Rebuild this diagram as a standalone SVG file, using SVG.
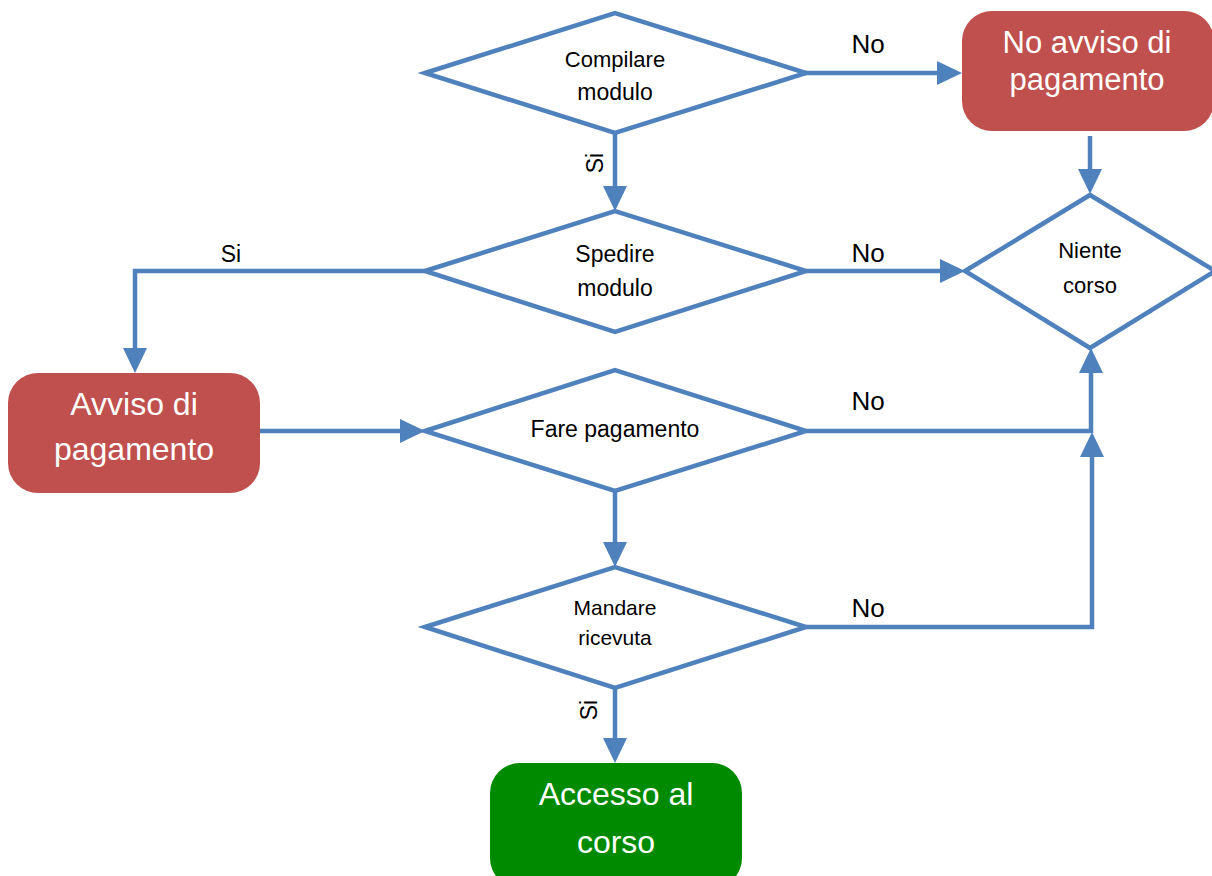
<svg xmlns="http://www.w3.org/2000/svg" width="1212" height="876" viewBox="0 0 1212 876">
<style>
.dia{fill:#FFFFFF;stroke:#4F81BD;stroke-width:4.5;stroke-linejoin:miter}
.con{fill:none;stroke:#4F81BD;stroke-width:4.5;stroke-linejoin:miter}
.red{fill:#C0504D}
.green{fill:#008A00}
.t{font-family:"Liberation Sans",Arial,sans-serif;fill:#000000;text-anchor:middle}
.w{font-family:"Liberation Sans",Arial,sans-serif;fill:#FFFFFF;text-anchor:middle}
.lbl{font-family:"Liberation Sans",Arial,sans-serif;fill:#000000;text-anchor:middle}
</style>
<defs>
<marker id="arr" markerUnits="userSpaceOnUse" markerWidth="28" markerHeight="28" viewBox="0 -14 28 28" refX="2" refY="0" orient="auto">
<path d="M0,-12 L25,0 L0,12 Z" fill="#4F81BD"/>
</marker>
</defs>
<rect width="1212" height="876" fill="#FFFFFF"/>
<g id="connectors">
<path class="con" d="M805,73 H939" marker-end="url(#arr)"/>
<path class="con" d="M615,133 V188" marker-end="url(#arr)"/>
<path class="con" d="M425,271 H135 V350" marker-end="url(#arr)"/>
<path class="con" d="M806,271 H942" marker-end="url(#arr)"/>
<path class="con" d="M1090,136 V171" marker-end="url(#arr)"/>
<path class="con" d="M260,431 H402" marker-end="url(#arr)"/>
<path class="con" d="M806,431 H1091 V371" marker-end="url(#arr)"/>
<path class="con" d="M615,491 V544" marker-end="url(#arr)"/>
<path class="con" d="M806,627 H1092 V455" marker-end="url(#arr)"/>
<path class="con" d="M615,688 V740" marker-end="url(#arr)"/>
<text class="lbl" x="868" y="53" font-size="26">No</text>
<text class="lbl" x="868" y="262" font-size="26">No</text>
<text class="lbl" x="868" y="410" font-size="26">No</text>
<text class="lbl" x="868" y="617" font-size="26">No</text>
<text class="lbl" x="231" y="262" font-size="23">Si</text>
<text class="lbl" font-size="23" transform="translate(603,163) rotate(-90)">Si</text>
<text class="lbl" font-size="23" transform="translate(597,710) rotate(-90)">Si</text>
</g>
<g id="compilare">
<polygon class="dia" points="425,73 615,13 806,73 615,133"/>
<text class="t" x="615" y="67" font-size="22">Compilare</text>
<text class="t" x="615" y="100" font-size="23">modulo</text>
</g>
<g id="no-avviso">
<rect class="red" x="962" y="11" width="252" height="120" rx="30" ry="30"/>
<text class="w" x="1087" y="53" font-size="31">No avviso di</text>
<text class="w" x="1087" y="90" font-size="31">pagamento</text>
</g>
<g id="spedire">
<polygon class="dia" points="425,271 615,211 806,271 615,332"/>
<text class="t" x="615" y="262" font-size="23">Spedire</text>
<text class="t" x="615" y="296" font-size="23">modulo</text>
</g>
<g id="niente-corso">
<polygon class="dia" points="965,271 1090,195 1215,271 1090,348"/>
<text class="t" x="1090" y="258" font-size="22">Niente</text>
<text class="t" x="1090" y="293" font-size="22">corso</text>
</g>
<g id="avviso">
<rect class="red" x="8" y="373" width="252" height="120" rx="30" ry="30"/>
<text class="w" x="134" y="415" font-size="32">Avviso di</text>
<text class="w" x="134" y="460" font-size="32">pagamento</text>
</g>
<g id="fare-pagamento">
<polygon class="dia" points="425,431 615,370 806,431 615,491"/>
<text class="t" x="615" y="437" font-size="23">Fare pagamento</text>
</g>
<g id="mandare">
<polygon class="dia" points="425,627 615,567 806,627 615,688"/>
<text class="t" x="615" y="615" font-size="21">Mandare</text>
<text class="t" x="615" y="645" font-size="21">ricevuta</text>
</g>
<g id="accesso">
<rect class="green" x="490" y="763" width="252" height="125" rx="30" ry="30"/>
<text class="w" x="616" y="805" font-size="32">Accesso al</text>
<text class="w" x="616" y="853" font-size="32">corso</text>
</g>
</svg>
